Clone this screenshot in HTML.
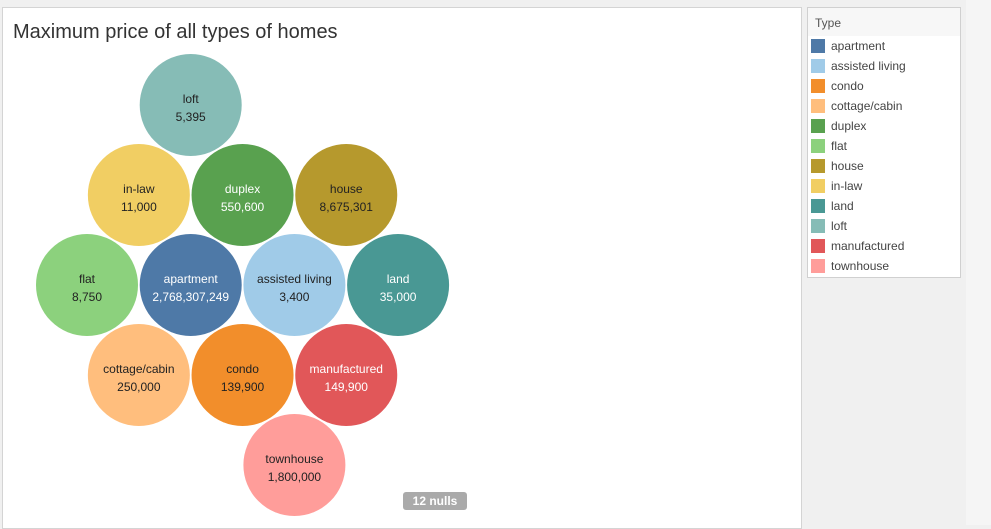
<!DOCTYPE html>
<html><head><meta charset="utf-8"><style>
body{margin:0;width:991px;height:525px;background:#f0f0f0;font-family:"Liberation Sans",sans-serif;position:relative;overflow:hidden}
#panel{position:absolute;left:2px;top:7px;width:798px;height:520px;background:#fff;border:1px solid #d4d4d4}
#title{position:absolute;left:13px;top:21px;font-size:20px;color:#333}
#legend{position:absolute;left:807px;top:7px;width:152px;height:269px;background:#fff;border:1px solid #d0d0d0}
#legend .hd{height:28px;background:#f7f7f7;font-size:12px;color:#555;padding:8px 0 0 7px;box-sizing:border-box}
.li{height:20px;display:flex;align-items:center;font-size:12px;color:#444}
.sw{width:14px;height:14px;margin:0 6px 0 3px}
#right{position:absolute;left:966px;top:0;width:25px;height:525px;background:#f5f5f5}
#nulls{position:absolute;left:403px;top:492px;width:64px;height:18px;background:#aaa;border-radius:3px;color:#fff;font-weight:bold;font-size:12px;text-align:center;line-height:18px}
</style></head><body>
<div id="panel"></div>
<div id="title">Maximum price of all types of homes</div>
<svg id="chart" width="800" height="525" style="position:absolute;left:0;top:0"></svg>
<div id="nulls">12 nulls</div>
<div id="legend"><div class="hd">Type</div><div id="items"></div></div>
<div id="right"></div>
<script>
const categories=["loft","in-law","duplex","house","flat","apartment","assisted living","land","cottage/cabin","condo","manufactured","townhouse"];
const values=[5395,11000,550600,8675301,8750,2768307249,3400,35000,250000,139900,149900,1800000];
const colors={"apartment":"#4e79a7","assisted living":"#a0cbe8","condo":"#f28e2b","cottage/cabin":"#ffbe7d","duplex":"#59a14f","flat":"#8cd17d","house":"#b6992d","in-law":"#f1ce63","land":"#499894","loft":"#86bcb6","manufactured":"#e15759","townhouse":"#ff9d9a"};
const legendOrder=["apartment","assisted living","condo","cottage/cabin","duplex","flat","house","in-law","land","loft","manufactured","townhouse"];
const darkText=["duplex","apartment","land","manufactured"];
// hex packing slots (row, col) in layout order
const slots=[[0,1],[1,0.5],[1,1.5],[1,2.5],[2,0],[2,1],[2,2],[2,3],[3,0.5],[3,1.5],[3,2.5],[4,2]];
const R=51,x0=87,y0=105,dx=103.7,dy=90;
const svg=document.getElementById('chart');const NS="http://www.w3.org/2000/svg";
categories.forEach((c,i)=>{
 const cx=x0+slots[i][1]*dx, cy=y0+slots[i][0]*dy;
 const g=document.createElementNS(NS,'g');
 
 
 const ci=document.createElementNS(NS,'circle');
 ci.setAttribute('cx',cx);ci.setAttribute('cy',cy);ci.setAttribute('r',R);ci.setAttribute('fill',colors[c]);
 g.appendChild(ci);
 const col=darkText.includes(c)?'#fff':'#222';
 [[c,-2],[values[i].toLocaleString('en-US'),16]].forEach(([t,o])=>{
  const tx=document.createElementNS(NS,'text');
  tx.setAttribute('x',cx);tx.setAttribute('y',cy+o);tx.setAttribute('text-anchor','middle');
  tx.setAttribute('font-size','12');tx.setAttribute('fill',col);tx.setAttribute('font-family','Liberation Sans, sans-serif');
  tx.textContent=t;g.appendChild(tx);
 });
 svg.appendChild(g);
});
const items=document.getElementById('items');
legendOrder.forEach(c=>{
 const d=document.createElement('div');d.className='li';
 
 
 d.innerHTML='<div class="sw" style="background:'+colors[c]+'"></div>'+c;
 items.appendChild(d);
});
</script>
</body></html>
